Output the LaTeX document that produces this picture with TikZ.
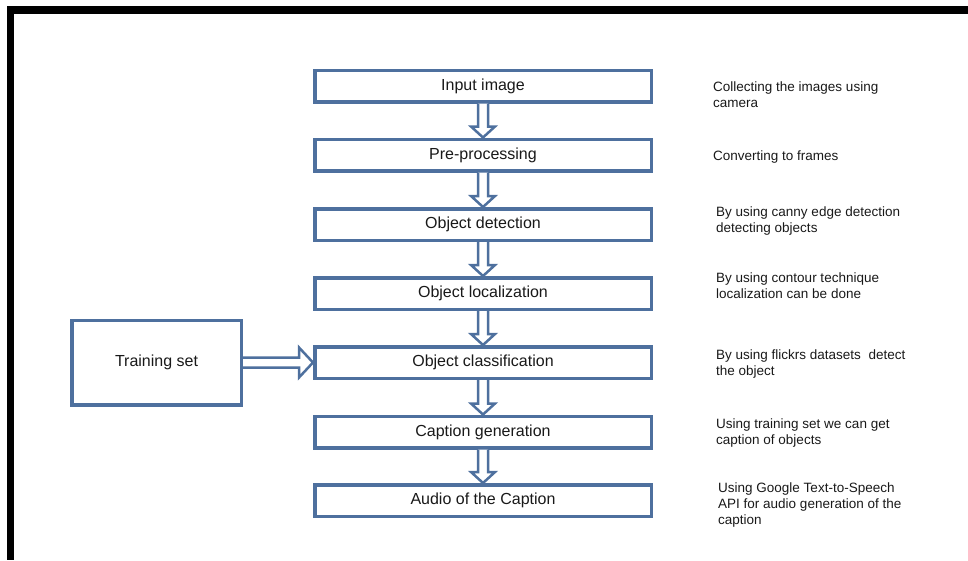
\documentclass[tikz,border=0pt]{standalone}
\usepackage{fontspec}
\setmainfont{Liberation Sans}
\usetikzlibrary{calc}
\definecolor{boxblue}{RGB}{78,112,158}
\definecolor{txt}{RGB}{25,25,25}
\tikzset{
  box/.style={draw=boxblue, line width=3.5pt, fill=white, text=txt,
    minimum width=336.5pt, minimum height=31.5pt, inner sep=0pt,
    font=\fontsize{16}{19}\selectfont},
  note/.style={anchor=west, align=left, inner sep=0pt, text=txt,
    font=\fontsize{13.5}{16}\selectfont},
  arr/.style={draw=boxblue, fill=white, line width=2.5pt, line join=miter},
  blockarrow/.style n args={3}{to path={
     ($(\tikztotarget)!#3!(\tikztostart)$) coordinate (hbx)
     ($(\tikztostart)!#1!90:(\tikztotarget)$) -- ($(hbx)!#1!90:(\tikztotarget)$)
     -- ($(hbx)!#2!90:(\tikztotarget)$) -- (\tikztotarget)
     -- ($(hbx)!#2!-90:(\tikztotarget)$) -- ($(hbx)!#1!-90:(\tikztotarget)$)
     -- ($(\tikztostart)!#1!-90:(\tikztotarget)$)}},
}
\begin{document}
\begin{tikzpicture}[x=1pt,y=-1pt]
\useasboundingbox (0,0) rectangle (968,560);
\fill[black] (7,6) rectangle (968,14);
\fill[black] (7,6) rectangle (14,560);

\node[box] (n1) at (483,86) {Input image};
\node[box] (n2) at (483,155) {Pre-processing};
\node[box] (n3) at (483,224.5) {Object detection};
\node[box] (n4) at (483,293.5) {Object localization};
\node[box] (n5) at (483,362.5) {Object classification};
\node[box] (n6) at (483,432) {Caption generation};
\node[box] (n7) at (483,500.5) {Audio of the Caption};

\node[box, minimum width=169.5pt, minimum height=84.5pt] (train) at (156.5,362.5) {Training set};

\draw[arr] (n1.south) to[blockarrow={5pt}{12pt}{11pt}] (n2.north);
\draw[arr] (n2.south) to[blockarrow={5pt}{12pt}{11pt}] (n3.north);
\draw[arr] (n3.south) to[blockarrow={5pt}{12pt}{11pt}] (n4.north);
\draw[arr] (n4.south) to[blockarrow={5pt}{12pt}{11pt}] (n5.north);
\draw[arr] (n5.south) to[blockarrow={5pt}{12pt}{11pt}] (n6.north);
\draw[arr] (n6.south) to[blockarrow={5pt}{12pt}{11pt}] (n7.north);
\draw[arr] (train.east) to[blockarrow={5pt}{15pt}{14pt}] (n5.west);

\node[note] (d1) at (713,95) {Collecting the images using\\camera};
\node[note] (d2) at (713,157) {Converting to frames};
\node[note] (d3) at (716,221) {By using canny edge detection\\detecting objects};
\node[note] (d4) at (716,286) {By using contour technique\\localization can be done};
\node[note] (d5) at (716,364) {By using flickrs datasets\ \ detect\\the object};
\node[note] (d6) at (716,433) {Using training set we can get\\caption of objects};
\node[note] (d7) at (718,505) {Using Google Text-to-Speech\\API for audio generation of the\\caption};
\end{tikzpicture}
\end{document}
